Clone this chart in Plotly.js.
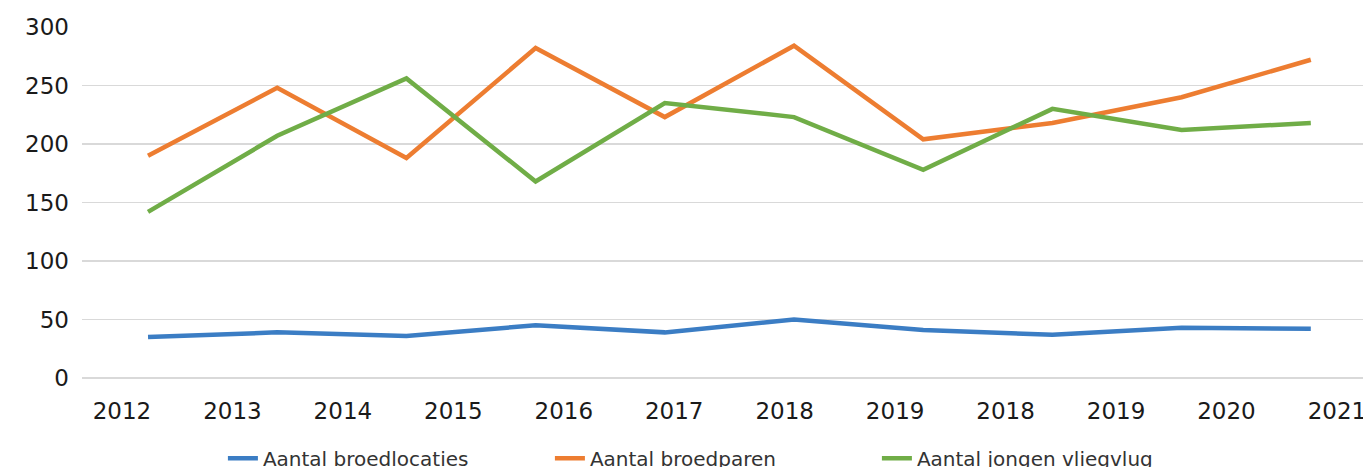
<!DOCTYPE html>
<html>
<head>
<meta charset="utf-8">
<script src="https://cdn.plot.ly/plotly-3.0.1.min.js"></script>
<style>html,body{margin:0;padding:0;background:#fff;}#chart{width:1363px;height:467px;}</style>
</head>
<body>
<div id="chart"></div>
<script>
// Data points (10 seasons)
var years = ['2012','2013','2014','2015','2016','2017','2018','2019','2020','2021'];
var broedlocaties = [35, 39, 36, 45, 39, 50, 41, 37, 43, 42];
var broedparen    = [190, 248, 188, 282, 223, 284, 204, 218, 240, 272];
var jongen        = [142, 207, 256, 168, 235, 223, 178, 230, 212, 218];

// Tick labels of the category axis as printed in the picture
var tickLabels = ['2012','2013','2014','2015','2016','2017','2018','2019','2018','2019','2020','2021'];

var seriesNames = ['Aantal broedlocaties', 'Aantal broedparen', 'Aantal jongen vliegvlug'];
var colors = ['#3b7dc4', '#ed7d31', '#70ad47'];

var xIdx = years.map(function(_, i){ return i; });
var tickIdx = tickLabels.map(function(_, i){ return i; });

function mk(y, k){
  return {
    x: xIdx, y: y, name: seriesNames[k], type: 'scatter', mode: 'lines',
    line: {color: colors[k], width: 4.5},
    hoverinfo: 'skip'
  };
}

var data = [mk(broedlocaties,0), mk(broedparen,1), mk(jongen,2)];
// carrier for the printed tick-label axis (draws nothing)
data.push({
  x: tickIdx, y: tickIdx.map(function(){ return null; }),
  xaxis: 'x2', yaxis: 'y', type: 'scatter', mode: 'lines',
  showlegend: false, hoverinfo: 'skip'
});

var layout = {
  width: 1363, height: 467,
  margin: {l: 82, r: 0, t: 27, b: 89, pad: 0},
  paper_bgcolor: '#ffffff', plot_bgcolor: '#ffffff',
  font: {family: 'DejaVu Sans, Verdana, sans-serif', color: '#1a1a1a'},
  showlegend: true,
  legend: {
    orientation: 'h', xref: 'paper', x: 0.110, xanchor: 'left',
    yref: 'container', y: 0.019, yanchor: 'middle',
    font: {size: 20, color: '#333333'},
    entrywidth: 282, entrywidthmode: 'pixels',
    bgcolor: 'rgba(0,0,0,0)'
  },
  xaxis: {
    range: [-0.511, 9.404], showticklabels: false, showgrid: false,
    zeroline: false, showline: false, ticks: '', fixedrange: true
  },
  xaxis2: {
    overlaying: 'x', side: 'bottom', anchor: 'y',
    range: [-0.362, 11.236], tickmode: 'array', tickvals: tickIdx, ticktext: tickLabels,
    showgrid: false, zeroline: false, showline: false, ticks: '',
    tickfont: {size: 23, color: '#1a1a1a'}, ticklabelstandoff: 17,
    ticklabeloverflow: 'allow'
  },
  yaxis: {
    range: [0, 300], tickmode: 'array', tickvals: [0,50,100,150,200,250,300],
    showgrid: true, gridcolor: '#d9d9d9', gridwidth: 1.5,
    zeroline: true, zerolinecolor: '#d9d9d9', zerolinewidth: 1.5,
    showline: false, ticks: '',
    tickfont: {size: 23, color: '#1a1a1a'}, ticklabelstandoff: 12
  }
};

Plotly.newPlot('chart', data, layout, {displayModeBar: false, staticPlot: true});
</script>
</body>
</html>
